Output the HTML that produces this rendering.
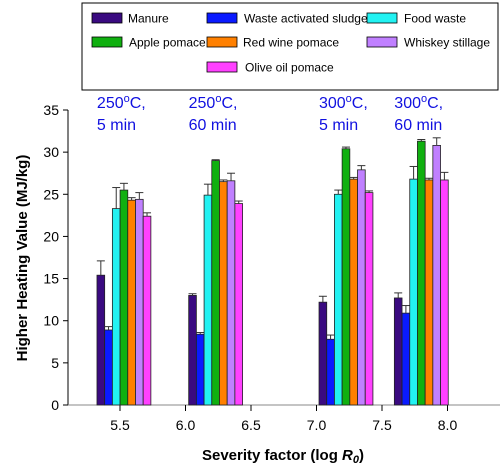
<!DOCTYPE html>
<html><head><meta charset="utf-8"><style>
body{margin:0;background:#fff;font-family:"Liberation Sans",Arial,sans-serif}
svg text{font-family:"Liberation Sans",Arial,sans-serif}
</style></head><body>
<svg id="c" width="504" height="471">
<g id="legend"></g>
<g id="plot"></g>
</svg>
<script>
const series=["Manure","Waste activated sludge","Food waste","Apple pomace","Red wine pomace","Whiskey stillage","Olive oil pomace"];
const colors=["#3a0a80","#0a1aff","#22f2f2","#10b010","#ff8000","#c080ff","#ff40ff"];
const groupX=[5.53,6.23,7.225,7.80];
const groupLabels=[["250°C,","5 min"],["250°C,","60 min"],["300°C,","5 min"],["300°C,","60 min"]];
const manure=[15.4,13.0,12.2,12.7];
const was=[8.9,8.4,7.8,10.9];
const food=[23.3,24.9,25.0,26.8];
const apple=[25.5,29.0,30.4,31.3];
const redwine=[24.3,26.5,26.8,26.7];
const whiskey=[24.4,26.6,27.9,30.8];
const olive=[22.4,23.9,25.2,26.7];
const errManure=[1.7,0.2,0.7,0.6];
const errWas=[0.4,0.2,0.5,0.9];
const errFood=[2.5,1.3,0.5,1.5];
const errApple=[0.8,0.1,0.2,0.2];
const errRed=[0.3,0.2,0.2,0.2];
const errWhiskey=[0.8,0.9,0.5,0.9];
const errOlive=[0.4,0.3,0.2,0.9];
const yTicks=[0,5,10,15,20,25,30,35];
const xTicks=[5.5,6.0,6.5,7.0,7.5,8.0];
const vals=[manure,was,food,apple,redwine,whiskey,olive];
const errs=[errManure,errWas,errFood,errApple,errRed,errWhiskey,errOlive];
const NS="http://www.w3.org/2000/svg";
const L=68,B=405,R=500;
const y=v=>B-v*(295/35);
const x=v=>120+(v-5.5)*131;
function mk(t,a,p){const e=document.createElementNS(NS,t);for(const k in a)e.setAttribute(k,a[k]);p.appendChild(e);return e;}
const plot=document.getElementById('plot'),leg=document.getElementById('legend');
let lb=mk('rect',{x:82,y:3,width:416,height:87,fill:'#fff',stroke:'#000'},leg);


const lpos=[[92,18,128],[207,18,244],[367,18,404],[92,42,129],[207,42,243],[367,42,404],[207,67,245]];
series.forEach((s,i)=>{
 const g=mk('g',{},leg);
 
 
 mk('rect',{x:lpos[i][0],y:lpos[i][1]-5,width:30,height:10,fill:colors[i],stroke:'#000','stroke-width':0.8},g);
 const t=mk('text',{x:lpos[i][2],y:lpos[i][1]+4.5,'font-size':12},g);t.textContent=s;
});
let ya=mk('line',{x1:L,y1:B,x2:L,y2:y(35),stroke:'#000'},plot);


let xa=mk('line',{x1:L,y1:B,x2:R,y2:B,stroke:'#888'},plot);


yTicks.forEach(v=>{
 mk('line',{x1:L-5,x2:L,y1:y(v),y2:y(v),stroke:'#000'},plot);
 const t=mk('text',{x:L-9,y:y(v)+5,'font-size':14,'text-anchor':'end'},plot);t.textContent=v;
 
 
});
xTicks.forEach(v=>{
 mk('line',{x1:x(v),x2:x(v),y1:B,y2:B+6,stroke:'#000'},plot);
 const t=mk('text',{x:x(v),y:B+25,'font-size':14,'text-anchor':'middle'},plot);t.textContent=v.toFixed(1);
 
 
});
const bw=7.7;
groupX.forEach((gx,gi)=>{
 const c=x(gx);
 vals.forEach((arr,si)=>{
  const bx=c-3.5*bw+si*bw;
  const r=mk('rect',{x:bx,y:y(arr[gi]),width:bw,height:B-y(arr[gi]),fill:colors[si],stroke:'#222','stroke-width':0.8},plot);
  
  
  const e=errs[si][gi],m=bx+bw/2;
  mk('line',{x1:m,x2:m,y1:y(arr[gi]),y2:y(arr[gi]+e),stroke:'#333'},plot);
  mk('line',{x1:m-4,x2:m+4,y1:y(arr[gi]+e),y2:y(arr[gi]+e),stroke:'#333'},plot);
 });
 const ga=mk('text',{x:c-27,y:108,'font-size':16,fill:'#1010e0'},plot);
 
 
 const l0=groupLabels[gi][0];
 ga.innerHTML=l0.slice(0,3)+'<tspan dy="-6" font-size="11">o</tspan><tspan dy="6">'+l0.slice(4)+'</tspan>';
 const gb=mk('text',{x:c-27,y:130,'font-size':16,fill:'#1010e0'},plot);gb.textContent=groupLabels[gi][1];
});
const yt=mk('text',{x:0,y:0,'font-size':15,'font-weight':'bold','text-anchor':'middle',transform:'translate(27,258) rotate(-90)'},plot);
yt.textContent='Higher Heating Value (MJ/kg)';


const xt=mk('text',{x:283,y:460,'font-size':15,'font-weight':'bold','text-anchor':'middle'},plot);
xt.innerHTML='Severity factor (log <tspan font-style="italic">R</tspan><tspan font-style="italic" font-size="11" dy="3">0</tspan><tspan dy="-3">)</tspan>';


</script>
</body></html>
